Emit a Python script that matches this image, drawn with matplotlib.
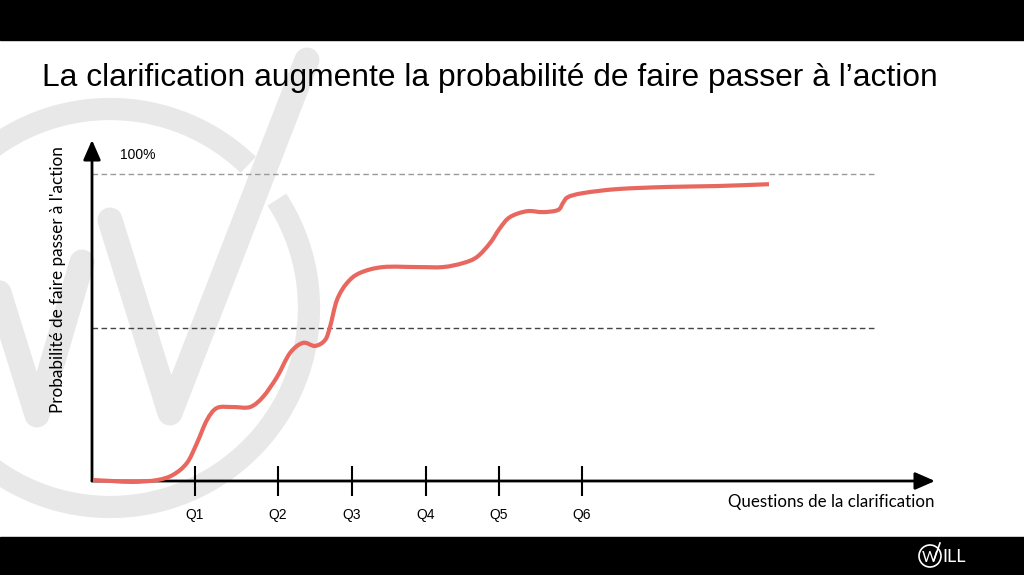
import matplotlib

matplotlib.use("Agg")
import matplotlib.pyplot as plt
from matplotlib.patches import Arc, Circle, PathPatch, Rectangle
from matplotlib.path import Path

# --- data ------------------------------------------------------------------------
# x: position along the "questions" axis, y: probability of action (% of the 100% line)
curve_x = [0.1, 2.0, 4.1, 6.5, 8.1, 9.5, 10.5, 11.5, 12.5, 14.1, 15.8, 17.1, 18.5,
           19.8, 21.1, 22.3, 23.3, 23.8, 24.5, 25.5, 26.8, 29.1, 32.5, 35.1, 37.1,
           38.5, 39.8, 40.8, 41.8, 43.5, 45.1, 46.6, 47.1, 47.6, 49.1, 52.5, 57.5,
           62.5, 67.7]
curve_pct = [0.3, 0.0, -0.3, 0.3, 2.0, 5.9, 12.4, 19.9, 23.8, 24.1, 24.1, 27.4, 33.9,
             41.7, 45.0, 44.0, 45.9, 50.2, 59.0, 64.5, 67.8, 69.7, 69.7, 69.7, 71.0,
             73.0, 77.5, 82.4, 86.0, 87.9, 87.6, 88.3, 90.6, 92.5, 93.8, 95.1, 95.8,
             96.1, 96.7]
q_ticks = [10.3, 18.6, 26.0, 33.4, 40.7, 49.0]
q_labels = ["Q1", "Q2", "Q3", "Q4", "Q5", "Q6"]
guide_levels = [100, 50]
guide_end = 78.5

TITLE = "La clarification augmente la probabilité de faire passer à l’action"
YLABEL = "Probabilité de faire passer à l'action"
XLABEL = "Questions de la clarification"

C_CURVE = "#e8675f"
C_MARK = "#e8e8e8"


def smooth_path(xs, ys):
    """Catmull-Rom through the read points, handed to matplotlib as cubic Béziers."""
    pts = list(zip(xs, ys))
    verts, codes = [pts[0]], [Path.MOVETO]
    for i in range(len(pts) - 1):
        p0 = pts[max(i - 1, 0)]
        p1, p2 = pts[i], pts[i + 1]
        p3 = pts[min(i + 2, len(pts) - 1)]
        c1 = (p1[0] + (p2[0] - p0[0]) / 6, p1[1] + (p2[1] - p0[1]) / 6)
        c2 = (p2[0] - (p3[0] - p1[0]) / 6, p2[1] - (p3[1] - p1[1]) / 6)
        verts += [c1, c2, p2]
        codes += [Path.CURVE4] * 3
    return Path(verts, codes)


W, H = 1024, 575
fig = plt.figure(figsize=(W / 100, H / 100), dpi=100)
fig.patch.set_facecolor("white")

# background layer in pixel coordinates: black bands + faint logo watermark
bg = fig.add_axes([0, 0, 1, 1], zorder=0)
bg.set_xlim(0, W)
bg.set_ylim(H, 0)
bg.axis("off")
bg.add_patch(Rectangle((0, 0), W, 40, color="black"))
bg.add_patch(Rectangle((0, 537), W, H - 537, color="black"))
bg.add_patch(Arc((110, 308), 398, 398, theta1=327, theta2=674, color=C_MARK, lw=16))
for xs, ys in [([-23, 37, 82], [222, 415, 262]), ([110, 170, 307], [220, 413, 60])]:
    bg.plot(xs, ys, color=C_MARK, lw=18, solid_capstyle="round", solid_joinstyle="round")

# small WILL logo in the bottom band
bg.add_patch(Circle((930, 556), 11, fill=False, ec="white", lw=1.2))
bg.text(929.5, 557.5, "W", color="white", fontsize=11, ha="center", va="center",
        family="Lato")
bg.plot([934, 940], [560, 543], color="white", lw=1.2)
bg.text(942, 556.5, "ILL", color="white", fontsize=13, ha="left", va="center",
        family="Lato")

fig.text(42 / W, 1 - 78 / H, TITLE, fontsize=22.9, family="Liberation Sans",
         ha="left", va="center", color="black")

# main axes: origin at (92, 481) px, arrow tips at x=935 / y=140
x0, y0, x1, y1 = 92, 481, 935, 140
ax = fig.add_axes([x0 / W, 1 - y0 / H, (x1 - x0) / W, (y0 - y1) / H], zorder=1)
ax.patch.set_alpha(0)
ax.set_xlim(0, 84.3)
ax.set_ylim(0, 111.1)
for s in ax.spines.values():
    s.set_visible(False)

arrow = dict(arrowstyle="-|>,head_length=0.8,head_width=0.35", mutation_scale=15,
             lw=2, color="black", shrinkA=0, shrinkB=0)
ax.annotate("", xy=(84.3, 0), xytext=(0, 0), arrowprops=arrow, annotation_clip=False)
ax.annotate("", xy=(0, 111.1), xytext=(0, 0), arrowprops=arrow, annotation_clip=False)

ax.hlines(guide_levels[0], 0, guide_end, colors="#999999", linestyles=(0, (4, 2.5)), lw=1)
ax.hlines(guide_levels[1], 0, guide_end, colors="#444444", linestyles=(0, (4, 2.5)), lw=1)
ax.text(2.8, 106.2, "100%", fontsize=10, family="Liberation Sans", ha="left", va="center")

ax.add_patch(PathPatch(smooth_path(curve_x, curve_pct), fill=False, ec=C_CURVE, lw=3,
                       capstyle="butt", joinstyle="round", zorder=5, clip_on=False))

ax.set_xticks(q_ticks)
ax.set_xticklabels(q_labels, family="Liberation Sans", fontsize=10)
ax.tick_params(axis="x", direction="inout", length=21, width=1.5, pad=9)
ax.set_yticks([])

ax.set_ylabel(YLABEL, family="Lato", fontsize=12.3)
ax.yaxis.label.set_va("center")
ax.yaxis.set_label_coords(-34 / (x1 - x0), (y0 - 280) / (y0 - y1))
ax.text(1.0, -(502 - y0) / (y0 - y1), XLABEL, transform=ax.transAxes, family="Lato",
        fontsize=12.2, ha="right", va="center")

fig.savefig("out.png", dpi=100)
